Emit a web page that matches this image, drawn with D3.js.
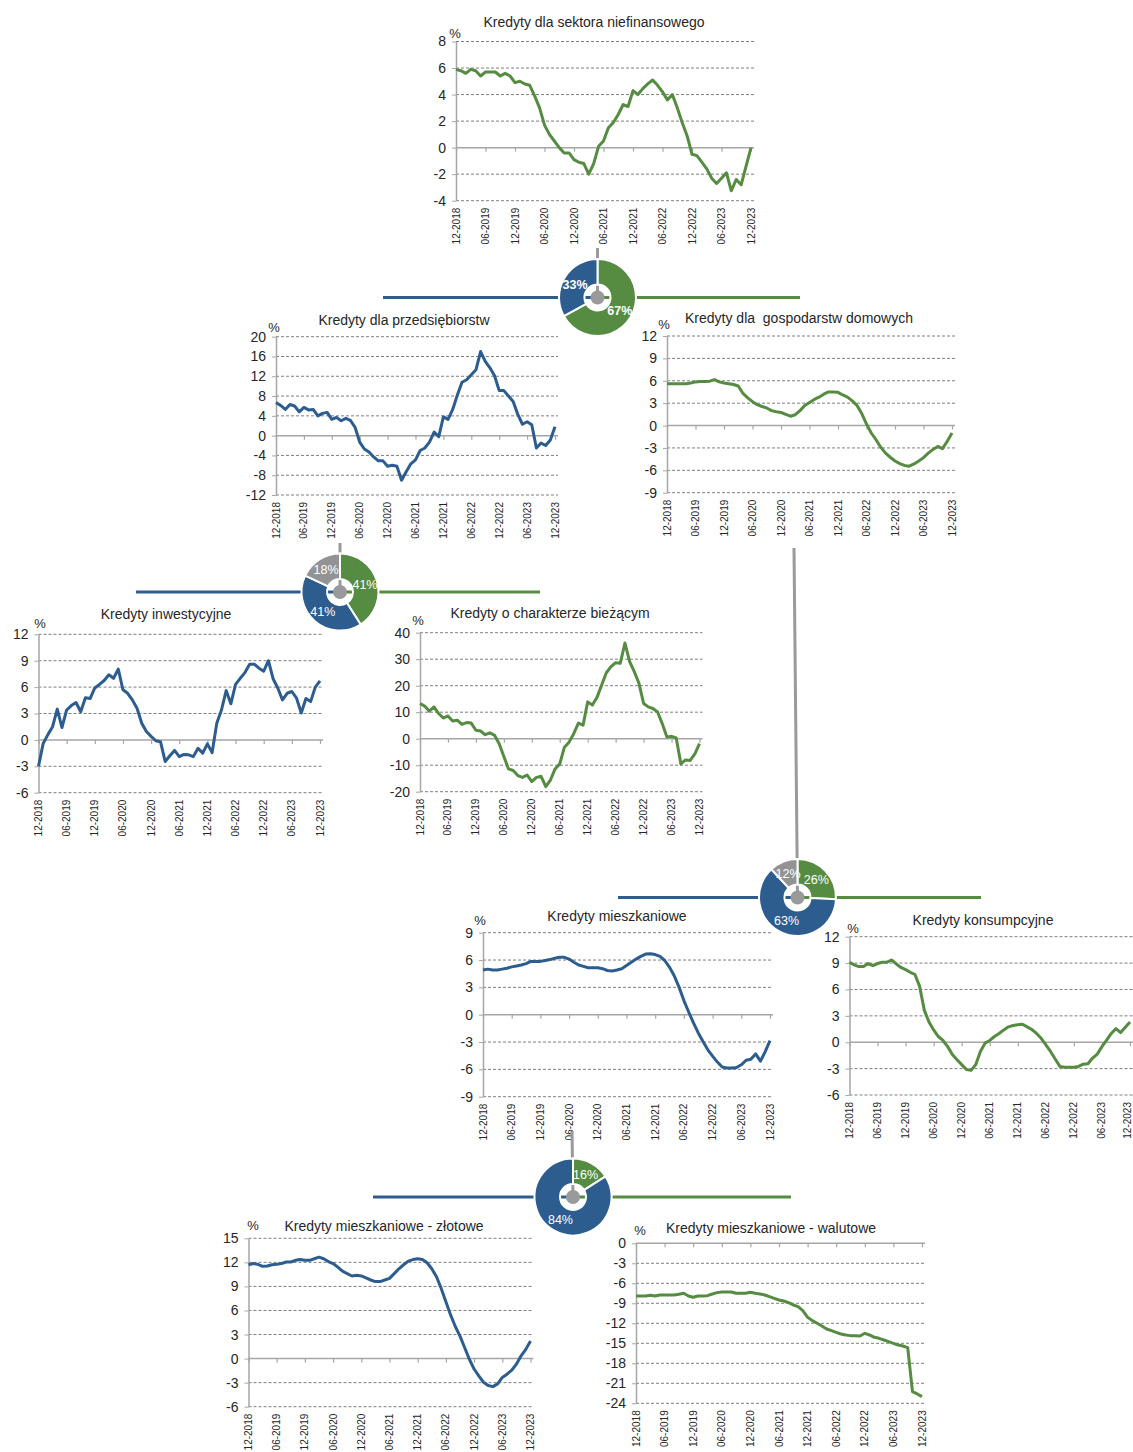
<!DOCTYPE html>
<html>
<head>
<meta charset="utf-8">
<script src="https://cdn.jsdelivr.net/npm/d3@7"></script>
<style>
  body { margin: 0; background: #fff; }
  svg text { font-family: "Liberation Sans", Arial, sans-serif; fill: #262626; }
</style>
</head>
<body>
<div id="chart"></div>
<script>
// monthly data, 12-2018 .. 12-2023 (61 points), y/y %
const tickLabels = ["12-2018", "06-2019", "12-2019", "06-2020", "12-2020", "06-2021",
  "12-2021", "06-2022", "12-2022", "06-2023", "12-2023"];

const sektorNiefin = [5.9, 5.8, 5.6, 5.9, 5.8, 5.4, 5.7, 5.7, 5.7, 5.4, 5.6, 5.4, 4.9, 5.0, 4.8, 4.7, 3.9, 3.0, 1.7, 1.0,
  0.5, 0.0, -0.4, -0.4, -0.9, -1.1, -1.2, -2.0, -1.2, 0.1, 0.5, 1.5, 1.9, 2.5, 3.25, 3.1, 4.3, 4.0, 4.45, 4.8,
  5.1, 4.7, 4.2, 3.6, 4.0, 3.0, 1.9, 0.9, -0.5, -0.6, -1.1, -1.6, -2.3, -2.7, -2.3, -1.9, -3.25, -2.4, -2.8, -1.4, 0.0];

const przedsiebiorstwa = [6.7, 6.1, 5.3, 6.3, 6.0, 4.8, 5.7, 5.2, 5.3, 4.0, 4.5, 4.7, 3.3, 3.7, 3.0, 3.5, 3.1, 1.7, -1.3, -2.7,
  -3.3, -4.3, -5.1, -5.1, -6.2, -6.0, -6.2, -9.0, -7.3, -5.7, -4.9, -3.0, -2.5, -1.3, 0.7, -0.2, 3.8, 3.3, 5.3, 8.2,
  10.8, 11.3, 12.3, 13.3, 17.0, 15.0, 13.7, 12.1, 9.1, 9.1, 8.0, 6.9, 4.3, 2.3, 2.8, 2.2, -2.5, -1.5, -2.0, -0.9, 1.8];

const gospodarstwa = [5.6, 5.6, 5.6, 5.6, 5.6, 5.7, 5.85, 5.9, 5.9, 5.95, 6.15, 5.85, 5.7, 5.6, 5.5, 5.3, 4.3, 3.7, 3.2, 2.8,
  2.55, 2.35, 2.0, 1.85, 1.75, 1.5, 1.25, 1.45, 2.0, 2.7, 3.1, 3.5, 3.8, 4.2, 4.5, 4.5, 4.45, 4.1, 3.8, 3.3,
  2.7, 1.6, 0.2, -1.0, -1.9, -2.9, -3.7, -4.25, -4.75, -5.1, -5.35, -5.45, -5.15, -4.75, -4.3, -3.7, -3.2, -2.8, -3.1, -2.1, -1.0];

const inwestycyjne = [-3.0, -0.4, 0.6, 1.5, 3.5, 1.4, 3.4, 3.9, 4.25, 3.2, 4.8, 4.7, 5.9, 6.3, 6.75, 7.4, 7.0, 8.05, 5.7, 5.3,
  4.55, 3.6, 1.9, 0.95, 0.4, -0.1, -0.2, -2.45, -1.8, -1.2, -1.9, -1.65, -1.7, -1.9, -0.95, -1.5, -0.45, -1.45, 1.9, 3.4,
  5.6, 4.1, 6.3, 7.0, 7.65, 8.6, 8.6, 8.15, 7.8, 9.0, 6.95, 5.9, 4.55, 5.3, 5.5, 4.75, 3.05, 4.7, 4.35, 6.0, 6.7];

const biezace = [13.3, 12.3, 10.4, 12.0, 9.5, 7.8, 8.6, 6.7, 7.0, 5.4, 6.1, 5.9, 3.2, 2.9, 1.5, 2.2, 1.3, -1.9, -6.7, -11.4,
  -12.0, -13.9, -14.6, -13.7, -16.2, -14.6, -14.2, -18.1, -15.6, -11.4, -9.5, -3.2, -1.3, 1.9, 5.9, 5.1, 13.9, 12.7, 15.6, 20.3,
  24.9, 27.2, 28.7, 28.5, 36.1, 29.1, 25.3, 20.9, 13.3, 12.0, 11.4, 10.1, 5.7, 0.6, 0.9, 0.3, -9.5, -8.0, -8.2, -5.7, -1.9];

const mieszkaniowe = [4.9, 5.0, 4.9, 4.9, 5.0, 5.1, 5.25, 5.35, 5.45, 5.6, 5.85, 5.85, 5.85, 5.95, 6.05, 6.2, 6.3, 6.3, 6.1, 5.75,
  5.45, 5.3, 5.15, 5.15, 5.15, 5.05, 4.85, 4.8, 4.9, 5.05, 5.4, 5.75, 6.1, 6.4, 6.65, 6.7, 6.6, 6.4, 5.95, 5.2,
  4.25, 3.0, 1.55, 0.3, -0.9, -2.0, -2.95, -3.85, -4.55, -5.2, -5.75, -5.85, -5.85, -5.8, -5.5, -5.0, -4.9, -4.3, -5.1, -4.05, -2.85];

const konsumpcyjne = [9.1, 8.8, 8.6, 8.6, 8.95, 8.7, 8.95, 9.1, 9.1, 9.35, 8.9, 8.5, 8.25, 7.95, 7.7, 6.35, 3.65, 2.3, 1.4, 0.65,
  0.2, -0.5, -1.4, -2.0, -2.55, -3.1, -3.2, -2.55, -1.05, -0.1, 0.2, 0.65, 1.0, 1.4, 1.75, 1.9, 2.0, 2.05, 1.75, 1.45,
  1.0, 0.45, -0.3, -1.05, -1.9, -2.75, -2.85, -2.85, -2.85, -2.75, -2.5, -2.45, -1.8, -1.35, -0.5, 0.25, 1.0, 1.55, 1.1, 1.7, 2.3];

const mieszkZlotowe = [11.7, 11.85, 11.75, 11.5, 11.55, 11.7, 11.75, 11.85, 12.05, 12.05, 12.25, 12.35, 12.25, 12.25, 12.45, 12.65, 12.45, 12.1, 11.85, 11.4,
  10.9, 10.6, 10.3, 10.4, 10.3, 10.05, 9.8, 9.6, 9.6, 9.8, 10.0, 10.6, 11.2, 11.7, 12.15, 12.35, 12.45, 12.35, 11.95, 11.2,
  10.2, 8.75, 7.1, 5.45, 4.0, 2.8, 1.35, -0.1, -1.3, -2.15, -2.95, -3.35, -3.5, -3.15, -2.35, -1.95, -1.45, -0.7, 0.35, 1.15, 2.2];

const mieszkWalutowe = [-7.9, -7.9, -7.9, -7.8, -7.9, -7.75, -7.75, -7.75, -7.75, -7.65, -7.5, -7.9, -8.1, -7.9, -7.9, -7.85, -7.6, -7.4, -7.3, -7.3,
  -7.3, -7.5, -7.5, -7.5, -7.35, -7.5, -7.6, -7.75, -8.0, -8.25, -8.5, -8.65, -8.9, -9.25, -9.5, -10.1, -11.1, -11.6, -12.0, -12.4,
  -12.85, -13.1, -13.35, -13.6, -13.75, -13.85, -13.85, -13.9, -13.5, -13.75, -14.1, -14.25, -14.5, -14.75, -15.0, -15.25, -15.4, -15.65, -22.25, -22.6, -23.0];

// shares in the parent aggregate: [green, blue, gray]
const shareNiefin = [67, 33, 0];
const shareFirms = [41, 41, 18];
const shareHouse = [26, 63, 12];
const shareMortgage = [16, 84, 0];
const shareLabels = ["67%", "33%", "", "41%", "41%", "18%", "26%", "63%", "12%", "16%", "84%", ""];

const BLUE = "#2d5d8e", GREEN = "#568b42", GRAY = "#939393";

const svg = d3.select("#chart").append("svg")
  .attr("width", 1133)
  .attr("height", 1452);

// panel layout (pixel boxes)
const panels = [
  { title: "Kredyty dla sektora niefinansowego", data: sektorNiefin, color: GREEN, domain: [-4, 8], step: 2,
    x0: 456, x1: 751, yTop: 41.5, yBot: 200.7, tx: 594, ty: 27, px: 455, py: 38 },
  { title: "Kredyty dla przedsiębiorstw", data: przedsiebiorstwa, color: BLUE, domain: [-12, 20], step: 4,
    x0: 276, x1: 555, yTop: 336.7, yBot: 495, tx: 404, ty: 325, px: 274, py: 332 },
  { title: "Kredyty dla  gospodarstw domowych", data: gospodarstwa, color: GREEN, domain: [-9, 12], step: 3,
    x0: 667, x1: 952, yTop: 336, yBot: 492.7, tx: 799, ty: 323, px: 664, py: 329 },
  { title: "Kredyty inwestycyjne", data: inwestycyjne, color: BLUE, domain: [-6, 12], step: 3,
    x0: 38.5, x1: 320, yTop: 634.3, yBot: 792.7, tx: 166, ty: 619, px: 40, py: 628 },
  { title: "Kredyty o charakterze bieżącym", data: biezace, color: GREEN, domain: [-20, 40], step: 10,
    x0: 420, x1: 699.5, yTop: 632.7, yBot: 791.7, tx: 550, ty: 618, px: 418, py: 625 },
  { title: "Kredyty mieszkaniowe", data: mieszkaniowe, color: BLUE, domain: [-9, 9], step: 3,
    x0: 483, x1: 770, yTop: 932.7, yBot: 1096.7, tx: 617, ty: 921, px: 480, py: 925 },
  { title: "Kredyty konsumpcyjne", data: konsumpcyjne, color: GREEN, domain: [-6, 12], step: 3,
    x0: 849.5, x1: 1130, yTop: 936.7, yBot: 1095, tx: 983, ty: 925, px: 853, py: 933 },
  { title: "Kredyty mieszkaniowe - złotowe", data: mieszkZlotowe, color: BLUE, domain: [-6, 15], step: 3,
    x0: 248.5, x1: 530.5, yTop: 1238.3, yBot: 1406.7, tx: 384, ty: 1231, px: 253, py: 1230 },
  { title: "Kredyty mieszkaniowe - walutowe", data: mieszkWalutowe, color: GREEN, domain: [-24, 0], step: 3,
    x0: 636, x1: 922, yTop: 1243.3, yBot: 1403.3, tx: 771, ty: 1233, px: 640, py: 1235 }
];

const donuts = [
  { shares: shareNiefin, labels: shareLabels.slice(0, 3), cx: 597.5, cy: 297.5, left: 383, right: 800, top: [597.5, 248], bold: true },
  { shares: shareFirms, labels: shareLabels.slice(3, 6), cx: 340, cy: 592, left: 136, right: 540, top: [340, 543] },
  { shares: shareHouse, labels: shareLabels.slice(6, 9), cx: 797.5, cy: 897.5, left: 618, right: 981, top: [794, 548] },
  { shares: shareMortgage, labels: shareLabels.slice(9, 12), cx: 573, cy: 1197, left: 373, right: 791, top: [572, 1131] }
];

function drawPanel(p) {
  const x = d3.scaleLinear().domain([0, p.data.length - 1]).range([p.x0, p.x1]);
  const y = d3.scaleLinear().domain(p.domain).range([p.yBot, p.yTop]);
  const yTicks = d3.range(p.domain[0], p.domain[1] + 0.001, p.step);
  const g = svg.append("g");

  // dashed gridlines
  g.selectAll(".grid")
    .data(yTicks.filter(v => v !== 0))
    .join("line")
    .attr("x1", p.x0).attr("x2", p.x1 + 3)
    .attr("y1", d => y(d)).attr("y2", d => y(d))
    .attr("stroke", "#7f7f7f")
    .attr("stroke-width", 1)
    .attr("stroke-dasharray", "3,2");

  // y axis
  const yAxis = g.append("g")
    .attr("transform", `translate(${p.x0},0)`)
    .call(d3.axisLeft(y).tickValues(yTicks).tickSize(4).tickSizeOuter(0).tickPadding(6)
      .tickFormat(d => String(d)));
  yAxis.select(".domain").attr("stroke", "#a6a6a6").attr("stroke-width", 1.5);
  yAxis.selectAll(".tick line").attr("stroke", "#a6a6a6");
  yAxis.selectAll(".tick text").attr("font-size", 14).style("font-family", "Liberation Sans, Arial, sans-serif")
    .attr("fill", "#262626");

  // x axis on zero line
  const xAxis = g.append("g")
    .attr("transform", `translate(0,${y(0)})`)
    .call(d3.axisBottom(x).tickValues(d3.range(0, p.data.length, 6)).tickSize(4).tickSizeOuter(0).tickFormat(""));
  xAxis.select(".domain").remove();
  xAxis.selectAll(".tick line").attr("stroke", "#a6a6a6").attr("stroke-width", 1.2);
  g.append("line")
    .attr("x1", p.x0).attr("x2", p.x1 + 3)
    .attr("y1", y(0)).attr("y2", y(0))
    .attr("stroke", "#a6a6a6").attr("stroke-width", 1.5);

  // rotated date labels below plot (kept inside the page edge)
  g.selectAll(".xlab")
    .data(tickLabels)
    .join("text")
    .attr("transform", (d, i) => `translate(${Math.min(x(i * 6), 1127)},${p.yBot + 7}) rotate(-90)`)
    .attr("dy", "0.35em")
    .attr("text-anchor", "end")
    .attr("font-size", 10)
    .text(d => d);

  // series
  g.append("path")
    .datum(p.data)
    .attr("fill", "none")
    .attr("stroke", p.color)
    .attr("stroke-width", 3)
    .attr("stroke-linejoin", "round")
    .attr("d", d3.line().x((d, i) => x(i)).y(d => y(d)));

  g.append("text")
    .attr("x", p.tx).attr("y", p.ty)
    .attr("text-anchor", "middle")
    .attr("font-size", 14)
    .style("white-space", "pre")
    .attr("xml:space", "preserve")
    .text(p.title);

  g.append("text")
    .attr("x", p.px).attr("y", p.py)
    .attr("text-anchor", "middle")
    .attr("font-size", 13)
    .text("%");
}

function drawDonut(d) {
  const g = svg.append("g");
  g.append("line")
    .attr("x1", d.top[0]).attr("y1", d.top[1]).attr("x2", d.cx).attr("y2", d.cy)
    .attr("stroke", "#9a9a9a").attr("stroke-width", 3);
  g.append("line")
    .attr("x1", d.left).attr("y1", d.cy).attr("x2", d.cx).attr("y2", d.cy)
    .attr("stroke", BLUE).attr("stroke-width", 3);
  g.append("line")
    .attr("x1", d.cx).attr("y1", d.cy).attr("x2", d.right).attr("y2", d.cy)
    .attr("stroke", GREEN).attr("stroke-width", 3);

  const colors = [GREEN, BLUE, GRAY];
  const pie = d3.pie().sort(null).value(v => v);
  const arc = d3.arc().innerRadius(13).outerRadius(38.5);
  const labelArc = d3.arc().innerRadius(26).outerRadius(26);
  const arcs = pie(d.shares);

  const dg = g.append("g").attr("transform", `translate(${d.cx},${d.cy})`);
  dg.selectAll("path")
    .data(arcs.filter(a => a.value > 0))
    .join("path")
    .attr("d", arc)
    .attr("fill", a => colors[a.index])
    .attr("stroke", "#fff")
    .attr("stroke-width", 2);

  dg.append("circle").attr("r", 7).attr("fill", "#9a9a9a");

  dg.selectAll("text")
    .data(arcs.filter(a => a.value > 0))
    .join("text")
    .attr("transform", a => `translate(${labelArc.centroid(a)})`)
    .attr("text-anchor", "middle")
    .attr("dy", "0.35em")
    .attr("font-size", 12.5)
    .attr("font-weight", d.bold ? "bold" : "normal")
    .style("fill", "#fff")
    .text(a => d.labels[a.index]);
}

panels.forEach(drawPanel);
donuts.forEach(drawDonut);
</script>
</body>
</html>
